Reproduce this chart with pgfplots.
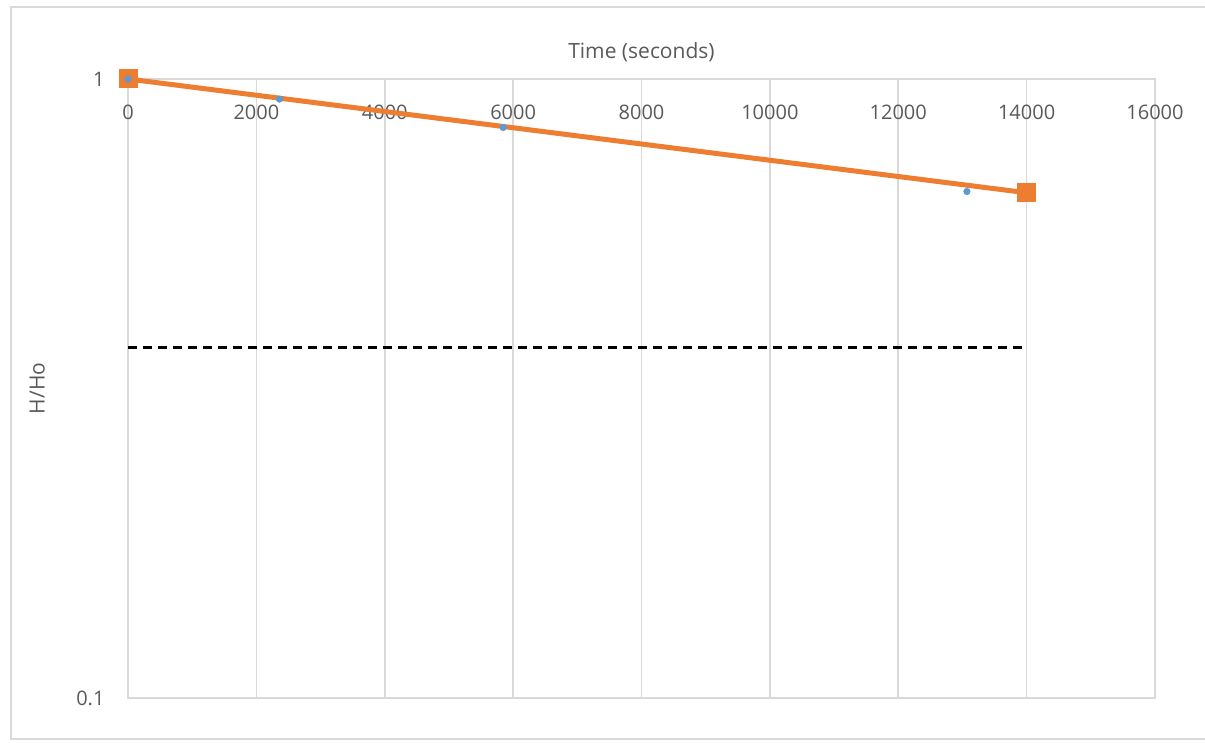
\documentclass[border=0pt]{standalone}
\usepackage{pgfplots}
\pgfplotsset{compat=1.18}
\usepackage{fontspec}
\setmainfont{Open Sans}
\definecolor{orng}{HTML}{ED7D31}
\definecolor{blu}{HTML}{5B9BD5}
\definecolor{grd}{HTML}{D9D9D9}
\definecolor{txt}{HTML}{595959}
\begin{document}
\begin{tikzpicture}[x=1bp,y=1bp]
\path[use as bounding box] (0,0) rectangle (1205,743);
\draw[grd, line width=1.5bp] (1205,736) -- (11,736) -- (11,4) -- (1205,4);
\begin{axis}[
  at={(128bp,45bp)}, anchor=south west,
  scale only axis, width=1027bp, height=619bp,
  xmin=0, xmax=16000, ymode=log, ymin=0.1, ymax=1,
  clip=false,
  axis line style={grd, line width=1.5bp},
  xtick={0,2000,...,16000},
  xticklabels={0,2000,4000,6000,8000,10000,12000,14000,16000},
  scaled x ticks=false,
  ytick={0.1,1}, yticklabels={0.1,1},
  xmajorgrids, grid style={grd, line width=1.6bp},
  major tick length=0pt, minor tick length=0pt,
  log ticks with fixed point,
  font=\fontsize{21bp}{25bp}\selectfont,
  tick label style={text=txt, font=\fontsize{20bp}{24bp}\selectfont},
  xticklabel pos=upper,
  xticklabel style={anchor=north, yshift=-22bp},
  yticklabel style={anchor=east, xshift=-20bp},
  every axis x label/.style={at={(axis description cs:0.5,1)}, anchor=center, yshift=27bp, text=txt},
  every axis y label/.style={at={(axis description cs:-0.0885,0.5)}, rotate=90, anchor=center, text=txt},
  xlabel={Time (seconds)},
  ylabel={H/Ho},
]
\addplot[orng, line width=5bp, mark=square*, mark size=9bp, mark options={solid, line width=0pt, fill=orng}] coordinates {(0,1) (14000,0.655)};
\addplot[only marks, mark=*, mark size=3.3bp, blu, mark options={line width=0.5bp, fill=blu}] coordinates {(0,1) (2360,0.928) (5845,0.835) (13070,0.658)};
\addplot[black, line width=3bp, dash pattern=on 9bp off 6bp] coordinates {(0,0.368) (14000,0.368)};
\end{axis}
\end{tikzpicture}
\end{document}
